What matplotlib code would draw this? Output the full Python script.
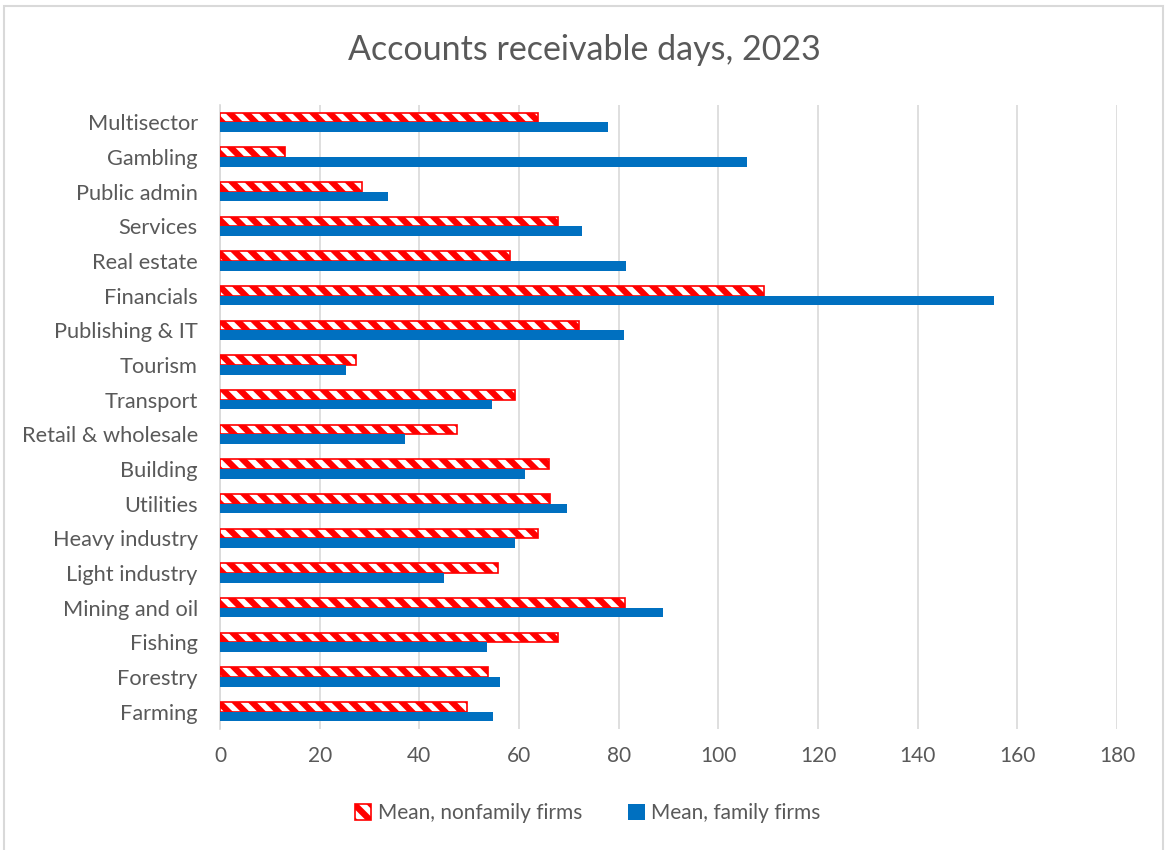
import matplotlib
matplotlib.use('Agg')
import matplotlib.pyplot as plt
import numpy as np
from matplotlib.patches import Rectangle

# Datos (de abajo hacia arriba)
sectors = ['Farming', 'Forestry', 'Fishing', 'Mining and oil', 'Light industry',
           'Heavy industry', 'Utilities', 'Building', 'Retail & wholesale',
           'Transport', 'Tourism', 'Publishing & IT', 'Financials', 'Real estate',
           'Services', 'Public admin', 'Gambling', 'Multisector']
nonfamily = [49.5, 53.8, 67.8, 81.3, 55.8, 63.8, 66.2, 66.0, 47.5,
             59.1, 27.3, 72.1, 109.1, 58.2, 67.9, 28.5, 13.0, 63.9]
family = [54.8, 56.2, 53.6, 88.9, 45.0, 59.2, 69.6, 61.2, 37.1,
          54.5, 25.3, 81.1, 155.3, 81.5, 72.7, 33.8, 105.8, 77.8]
xticks = [0, 20, 40, 60, 80, 100, 120, 140, 160, 180]

gris = '#595959'
plt.rcParams['font.family'] = ['Lato', 'DejaVu Sans']
plt.rcParams['hatch.linewidth'] = 4.5
plt.rcParams['hatch.color'] = '#FF0000'

fig = plt.figure(figsize=(11.68, 8.5), dpi=100)
fig.patches.append(Rectangle((4 / 1168, -0.05), 1159 / 1168, 1.05 - 6 / 850,
                             transform=fig.transFigure, fill=False,
                             edgecolor='#D9D9D9', linewidth=1.5))

ax = fig.add_axes([220 / 1168, 1 - 729 / 850, 897 / 1168, 624 / 850])

y = np.arange(len(sectors))
h = 0.28
ax.barh(y + h / 2, nonfamily, height=h, color='white', edgecolor='#FF0000',
        hatch='\\\\', linewidth=1.2, label='Mean, nonfamily firms', zorder=3)
ax.barh(y - h / 2, family, height=h, color='#0070C0',
        label='Mean, family firms', zorder=3)

ax.set_xlim(0, 180)
ax.set_ylim(-0.5, len(sectors) - 0.5)
ax.set_xticks(xticks)
ax.set_yticks(y)
ax.set_yticklabels(sectors)
ax.tick_params(axis='both', length=0, colors=gris)
ax.tick_params(axis='x', pad=12, labelsize=15)
ax.tick_params(axis='y', pad=16, labelsize=15.7)
ax.grid(axis='x', color='#D9D9D9', linewidth=1.2, zorder=0)
for s in ['top', 'right', 'bottom']:
    ax.spines[s].set_visible(False)
ax.spines['left'].set_color('#D9D9D9')
ax.spines['left'].set_linewidth(1.2)

fig.text(0.5, 1 - 50 / 850, 'Accounts receivable days, 2023', ha='center',
         va='center', fontsize=24.5, color=gris)

fig.legend(loc='center', bbox_to_anchor=(0.503, 1 - 813 / 850), ncol=2,
           frameon=False, fontsize=15, labelcolor=gris, handlelength=0.8,
           handleheight=0.8, handletextpad=0.3, columnspacing=2.2)

fig.savefig('out.png', dpi=100)
